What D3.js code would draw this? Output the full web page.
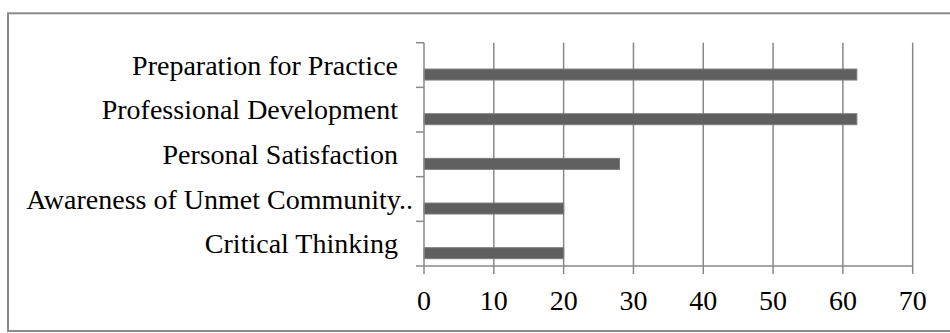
<!DOCTYPE html>
<html>
<head>
<meta charset="utf-8">
<script src="https://cdn.jsdelivr.net/npm/d3@7"></script>
<style>
  html, body { margin: 0; padding: 0; background: #ffffff; }
  svg { display: block; }
  text { font-family: "Liberation Serif", "Times New Roman", serif; fill: #000; }
</style>
</head>
<body>
<svg id="chart" width="950" height="333"></svg>
<script>
// Categories listed top to bottom as shown
const categories = [
  "Preparation for Practice",
  "Professional Development",
  "Personal Satisfaction",
  "Awareness of Unmet Community..",
  "Critical Thinking"
];
const values = [62, 62, 28, 20, 20];
const xTicks = [0, 10, 20, 30, 40, 50, 60, 70];

const W = 950, H = 333;
const plot = { left: 424, right: 912.7, top: 42.7, bottom: 266 };
const gridColor = "#888888";

const svg = d3.select("#chart");

// outer border (right edge lies beyond the picture)
svg.append("rect")
  .attr("x", 8).attr("y", 13.3)
  .attr("width", 960).attr("height", 317.7)
  .attr("fill", "#fff")
  .attr("stroke", "#8a8a8a")
  .attr("stroke-width", 2);

const x = d3.scaleLinear().domain([0, 70]).range([plot.left, plot.right]);
const y = d3.scaleBand().domain(categories).range([plot.top, plot.bottom]).padding(0);

// vertical gridlines (excluding 0 which is the axis)
svg.append("g").selectAll("line")
  .data(xTicks.filter(d => d !== 0))
  .join("line")
  .attr("x1", d => x(d)).attr("x2", d => x(d))
  .attr("y1", plot.top).attr("y2", plot.bottom + 8)
  .attr("stroke", gridColor).attr("stroke-width", 1.5);

// bars
const bw = y.bandwidth();
svg.append("g").selectAll("rect")
  .data(categories.map((c, i) => ({ c, v: values[i] })))
  .join("rect")
  .attr("x", x(0))
  .attr("y", d => y(d.c) + bw * 0.59)
  .attr("width", d => x(d.v) - x(0))
  .attr("height", bw * 0.246)
  .attr("fill", "#5f5f5f")
  .attr("stroke", "#7c7c7c")
  .attr("stroke-width", 1);

// y axis line
svg.append("line")
  .attr("x1", x(0)).attr("x2", x(0))
  .attr("y1", plot.top).attr("y2", plot.bottom + 8)
  .attr("stroke", gridColor).attr("stroke-width", 1.5);

// x axis baseline
svg.append("line")
  .attr("x1", x(0) - 8).attr("x2", plot.right)
  .attr("y1", plot.bottom).attr("y2", plot.bottom)
  .attr("stroke", gridColor).attr("stroke-width", 1.5);

// y tick marks at band boundaries
const boundaries = categories.map(c => y(c));
svg.append("g").selectAll("line")
  .data(boundaries)
  .join("line")
  .attr("x1", x(0) - 8).attr("x2", x(0))
  .attr("y1", d => d).attr("y2", d => d)
  .attr("stroke", gridColor).attr("stroke-width", 1.5);

// x tick labels
svg.append("g").selectAll("text")
  .data(xTicks)
  .join("text")
  .attr("x", d => x(d))
  .attr("y", 310)
  .attr("text-anchor", "middle")
  .attr("font-size", "28px")
  .text(d => d);

// category labels
svg.append("g").selectAll("text")
  .data(categories)
  .join("text")
  .attr("x", d => d.endsWith("..") ? 413 : 398)
  .attr("y", d => y(d) + bw / 2 + 9.5)
  .attr("text-anchor", "end")
  .attr("font-size", "28px")
  .text(d => d);
</script>
</body>
</html>
